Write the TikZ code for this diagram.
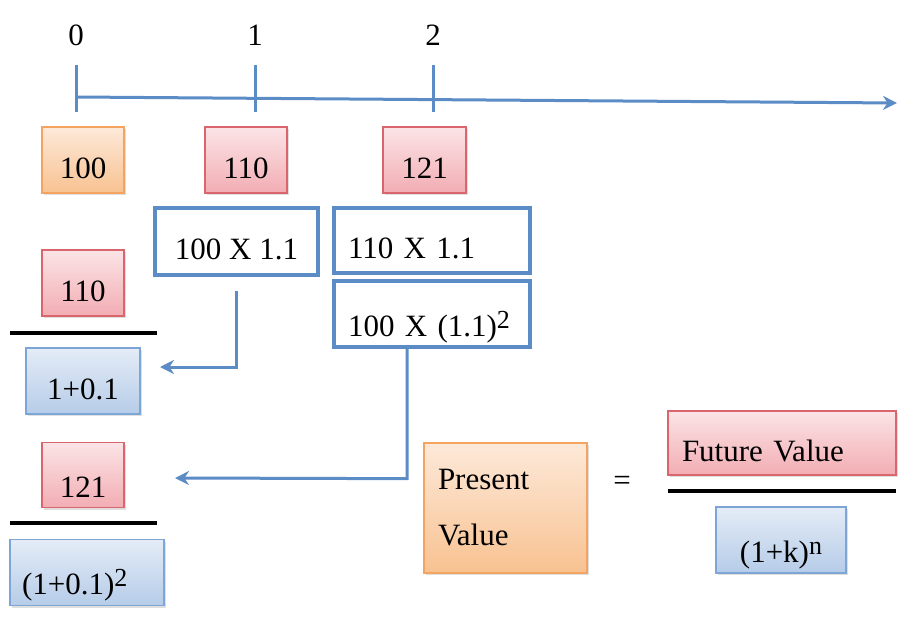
\documentclass[tikz,border=0pt]{standalone}
\usepackage{fontspec}
\setmainfont{Liberation Serif}
\usepackage{tikz}
\usetikzlibrary{arrows.meta,shadows}
\definecolor{lineblue}{HTML}{5B8CC6}
\definecolor{redtop}{HTML}{FBE4E6}
\definecolor{redbot}{HTML}{F2ADB3}
\definecolor{redline}{HTML}{D9666D}
\definecolor{orgtop}{HTML}{FDE9D9}
\definecolor{orgbot}{HTML}{F8C291}
\definecolor{orgline}{HTML}{F4A460}
\definecolor{blutop}{HTML}{E4ECF7}
\definecolor{blubot}{HTML}{B6CCE8}
\definecolor{bluline}{HTML}{7DA5D6}
\tikzset{
  every node/.style={font=\fontsize{15.5}{18}\selectfont},
  boxbase/.style={rectangle, line width=0.6pt, text height=20pt, text depth=2pt,
    drop shadow={shadow xshift=1pt, shadow yshift=-1.2pt, opacity=0.25}},
  redbox/.style={boxbase, draw=redline, top color=redtop, bottom color=redbot},
  orgbox/.style={boxbase, draw=orgline, top color=orgtop, bottom color=orgbot},
  blubox/.style={boxbase, draw=bluline, top color=blutop, bottom color=blubot},
  calcbox/.style={rectangle, draw=lineblue, line width=2pt, fill=white, text height=20pt, text depth=2pt},
  lower/.style={text height=24pt},
  bar/.style={line width=2pt, black},
  link/.style={lineblue, line width=1.5pt, -{Stealth[length=7pt,width=7pt]}}
}
\newcommand{\sq}[1]{\raisebox{.55ex}{\fontsize{13}{15}\selectfont #1}}
\begin{document}
\begin{tikzpicture}[x=0.5pt, y=-0.5pt]
        \useasboundingbox (0,0) rectangle (911,627);
        % time line
        \foreach \tx/\tl in {76/0, 255/1, 433/2}{
                \node (t\tl) at (\tx, 35) {\tl};
                \draw [lineblue, line width=1.5pt] (\tx, 65) -- (\tx, 112);
            }
        \draw [lineblue, line width=1.5pt, -{Stealth[length=7pt,width=7pt]}] (76, 97) -- (897, 103);
        % cash flows
        \node [orgbox, minimum width=41pt, minimum height=33pt] (c0) at (83, 160) {100};
        \node [redbox, minimum width=41pt, minimum height=33pt] (c1) at (246, 160) {110};
        \node [redbox, minimum width=41.5pt, minimum height=33pt] (c2) at (424.5, 160) {121};
        \node [calcbox, minimum width=81.5pt, minimum height=33.5pt] (m1) at (236.5, 241.5) {100 X 1.1};
        \node [calcbox, minimum width=98pt, minimum height=32.5pt, text width=84pt, align=left] (m2) at (432, 240.5) {110 X 1.1};
        \node [calcbox, lower, minimum width=98pt, minimum height=31pt, text width=84pt, align=left] (m3) at (432, 314) {100 X (1.1)\sq{2}};
        % discounting
        \node [redbox, minimum width=41pt, minimum height=33pt] (n1) at (83, 283) {110};
        \draw [bar] (10, 333) -- (157, 333);
        \node [blubox, minimum width=57pt, minimum height=33pt] (d1) at (83, 381) {1+0.1};
        \node [redbox, lower, minimum width=41pt, minimum height=32pt] (n2) at (83, 475) {121};
        \draw [bar] (10, 523) -- (157, 523);
        \node [blubox, lower, minimum width=77pt, minimum height=32.5pt, text width=65pt, align=left] (d2) at (87, 572.5) {(1+0.1)\sq{2}};
        \coordinate (e1) at (160, 367);
        \coordinate (e2) at (175, 478);
        \draw [link] ([yshift=-7pt]m1.south) -- (m1.south |- e1) -- (e1);
        \draw [link] ([xshift=-12.5pt]m3.south) -- ++(0, 130) -- (e2);
        % formula
        \node [orgbox, text height=, text depth=, minimum width=81.5pt, minimum height=65pt, text width=67.5pt, align=left] (pv) at (505.5, 508) {Present\\[10pt]Value};
        \node (eq) at (622, 483) {=};
        \node [redbox, minimum width=114pt, minimum height=32pt, text width=100pt, align=left] (fv) at (782, 443) {Future Value};
        \draw [bar] (668, 491) -- (896, 491);
        \node [blubox, lower, minimum width=65pt, minimum height=33pt] (kn) at (781, 540) {(1+k)\sq{n}};
    \end{tikzpicture}
\end{document}
